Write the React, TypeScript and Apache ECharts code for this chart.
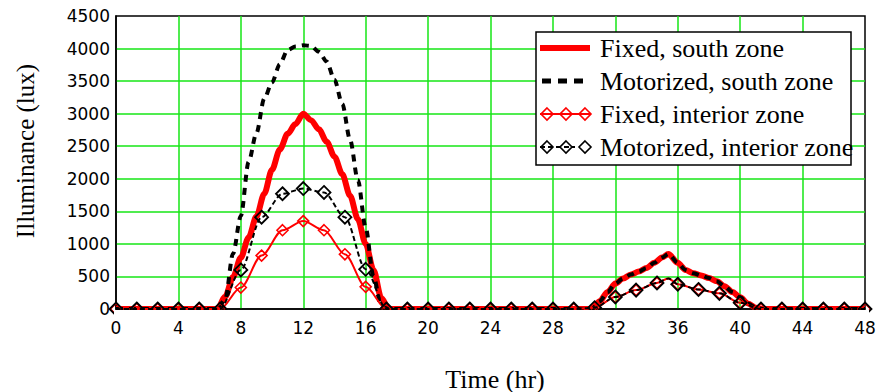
import React, { useEffect, useRef } from "react";
import * as echarts from "echarts";

// Time (hr) sampling for the south-zone curves
const southHours = [
  0,
  6.5, 7, 7.5, 8, 8.5, 9, 9.5, 10, 10.5, 11, 11.5, 12, 12.5, 13, 13.5, 14, 14.5, 15, 15.5, 16, 16.5, 17, 17.5,
  30.5, 31, 31.5, 32, 32.5, 33, 33.5, 34, 34.5, 35, 35.4, 36, 36.5, 37, 37.5, 38, 38.5, 39, 39.5, 40, 40.5, 41, 41.5,
  48,
];
const fixedSouth = [
  0,
  0, 190, 490, 790, 1100, 1420, 1770, 2140, 2450, 2690, 2840, 3000, 2900, 2760, 2570, 2340, 2070, 1740, 1380, 1000, 600, 170, 0,
  0, 120, 260, 390, 470, 530, 575, 630, 710, 790, 845, 710, 600, 550, 515, 475, 425, 350, 260, 180, 85, 20, 0,
  0,
];
const motorizedSouth = [
  0,
  0, 150, 850, 1430, 2260, 2700, 3230, 3480, 3760, 3980, 4030, 4050, 4040, 3950, 3800, 3520, 3150, 2600, 1980, 1250, 500, 40, 0,
  0, 120, 260, 390, 470, 530, 575, 630, 710, 790, 845, 710, 600, 550, 515, 475, 425, 350, 260, 180, 85, 20, 0,
  0,
];

// Time (hr) sampling for the interior-zone curves (markers every 4/3 hr)
const interiorHours = [
  0, 1.33, 2.67, 4, 5.33, 6.67,
  8, 9.33, 10.67, 12, 13.33, 14.67, 16,
  17.33, 18.67, 20, 21.33, 22.67, 24, 25.33, 26.67, 28, 29.33,
  30.67, 32, 33.33, 34.67, 35.4, 36, 37.33, 38.67, 40, 41.33,
  42.67, 44, 45.33, 46.67, 48,
];
const fixedInterior = [
  0, 0, 0, 0, 0, 0,
  330, 820, 1210, 1350, 1210, 840, 340,
  0, 0, 0, 0, 0, 0, 0, 0, 0, 0,
  20, 185, 290, 400, 470, 380, 300, 240, 95, 0,
  0, 0, 0, 0, 0,
];
const motorizedInterior = [
  0, 0, 0, 0, 0, 0,
  600, 1410, 1770, 1850, 1790, 1410, 610,
  0, 0, 0, 0, 0, 0, 0, 0, 0, 0,
  20, 185, 290, 400, 470, 380, 300, 240, 95, 0,
  0, 0, 0, 0, 0,
];

const legendLabels = [
  "Fixed, south zone",
  "Motorized, south zone",
  "Fixed, interior zone",
  "Motorized, interior zone",
];
const xTitle = "Time (hr)";
const yTitle = "Illuminance (lux)";

const SERIF = "'Liberation Serif', 'Times New Roman', serif";
const SANS = "'DejaVu Sans', Verdana, sans-serif";
const RED = "#ff0000";
const GREEN = "#16e616";

function diamond(cx: number, cy: number, r: number, color: string, z: number) {
  return {
    type: "polygon",
    z,
    shape: { points: [[cx, cy - r], [cx + r, cy], [cx, cy + r], [cx - r, cy]] },
    style: { fill: "rgba(255,255,255,0)", stroke: color, lineWidth: 1.6 },
  };
}

export default function App() {
  const ref = useRef<HTMLDivElement>(null);
  useEffect(() => {
    document.body.style.margin = "0";
    const chart = echarts.init(ref.current!, null, { renderer: "svg" });
    const isMarker = (t: number) => Math.abs(t * 0.75 - Math.round(t * 0.75)) < 0.02;
    const pair = (xs: number[], ys: number[]) => xs.map((x, i) => [x, ys[i]]);

    const rowY = [48, 81, 114, 147];
    const legendZ = 60;
    const graphic: any[] = [
      // mask lower halves of markers sitting on the baseline
      { type: "rect", z: 50, silent: true, shape: { x: 114, y: 310, width: 755, height: 7 }, style: { fill: "#fff" } },
      // legend box
      {
        type: "rect", z: legendZ, shape: { x: 536, y: 32, width: 315, height: 133 },
        style: { fill: "#fff", stroke: "#000", lineWidth: 1.5 },
      },
      { type: "line", z: legendZ + 1, shape: { x1: 540, y1: rowY[0], x2: 590, y2: rowY[0] }, style: { stroke: RED, lineWidth: 6 } },
      { type: "line", z: legendZ + 1, shape: { x1: 542, y1: rowY[1], x2: 590, y2: rowY[1] }, style: { stroke: "#000", lineWidth: 5, lineDash: [9, 7] } },
      { type: "line", z: legendZ + 1, shape: { x1: 540, y1: rowY[2], x2: 590, y2: rowY[2] }, style: { stroke: RED, lineWidth: 2 } },
      diamond(547, rowY[2], 6, RED, legendZ + 2),
      diamond(566, rowY[2], 6, RED, legendZ + 2),
      diamond(585, rowY[2], 6, RED, legendZ + 2),
      { type: "line", z: legendZ + 1, shape: { x1: 540, y1: rowY[3], x2: 575, y2: rowY[3] }, style: { stroke: "#000", lineWidth: 2, lineDash: [5, 3] } },
      diamond(547, rowY[3], 6, "#000", legendZ + 2),
      diamond(566, rowY[3], 6, "#000", legendZ + 2),
      diamond(585, rowY[3], 6, "#000", legendZ + 2),
      ...legendLabels.map((t, i) => ({
        type: "text", z: legendZ + 3, x: 600, y: rowY[i],
        style: { text: t, font: `26px ${SERIF}`, fill: "#000", align: "left", verticalAlign: "middle" },
      })),
      {
        type: "text", z: 10, x: 495, y: 379,
        style: { text: xTitle, font: `26px ${SERIF}`, fill: "#000", align: "center", verticalAlign: "middle" },
      },
      {
        type: "text", z: 10, x: 25, y: 151, rotation: Math.PI / 2,
        style: { text: yTitle, font: `25px ${SERIF}`, fill: "#000", align: "center", verticalAlign: "middle" },
      },
    ];

    chart.setOption({
      animation: false,
      backgroundColor: "#fff",
      grid: { left: 116, right: 15, top: 16, bottom: 83, show: true, borderColor: "#000", borderWidth: 1.5, backgroundColor: "transparent" },
      xAxis: {
        type: "value", min: 0, max: 48, interval: 4,
        axisLine: { show: true, onZero: false, lineStyle: { color: "#000", width: 1.5 } },
        axisTick: { show: false },
        splitLine: { show: true, showMinLine: false, showMaxLine: false, lineStyle: { color: GREEN, width: 1.5 } },
        axisLabel: { color: "#000", fontFamily: SANS, fontSize: 17, margin: 10, formatter: (v: number) => String(v) },
      },
      yAxis: {
        type: "value", min: 0, max: 4500, interval: 500,
        axisLine: { show: true, onZero: false, lineStyle: { color: "#000", width: 1.5 } },
        axisTick: { show: false },
        splitLine: { show: true, showMinLine: false, showMaxLine: false, lineStyle: { color: GREEN, width: 1.5 } },
        axisLabel: { color: "#000", fontFamily: SANS, fontSize: 17, margin: 6, formatter: (v: number) => String(v) },
      },
      series: [
        {
          name: legendLabels[0], type: "line", data: pair(southHours, fixedSouth),
          smooth: 0.3, smoothMonotone: "x", symbol: "none", silent: true, z: 2,
          lineStyle: { color: RED, width: 6 },
        },
        {
          name: legendLabels[1], type: "line", data: pair(southHours, motorizedSouth),
          smooth: 0.3, smoothMonotone: "x", symbol: "none", silent: true, z: 3,
          lineStyle: { color: "#000", width: 4, type: [7, 6] },
        },
        {
          name: legendLabels[2], type: "line", data: pair(interiorHours, fixedInterior),
          smooth: 0.3, smoothMonotone: "x", silent: true, z: 4,
          symbol: (v: number[]) => (isMarker(v[0]) ? "diamond" : "none"),
          symbolSize: 11,
          lineStyle: { color: RED, width: 2 },
          itemStyle: { color: "rgba(255,255,255,0)", borderColor: RED, borderWidth: 1.6 },
        },
        {
          name: legendLabels[3], type: "line", data: pair(interiorHours, motorizedInterior),
          smooth: 0.3, smoothMonotone: "x", silent: true, z: 5,
          symbol: (v: number[]) => (isMarker(v[0]) ? "diamond" : "none"),
          symbolSize: 13,
          lineStyle: { color: "#000", width: 2, type: [5, 3] },
          itemStyle: { color: "rgba(255,255,255,0)", borderColor: "#000", borderWidth: 1.8 },
        },
      ],
      graphic,
    });
    return () => chart.dispose();
  }, []);
  return <div ref={ref} style={{ width: 880, height: 392 }} />;
}
